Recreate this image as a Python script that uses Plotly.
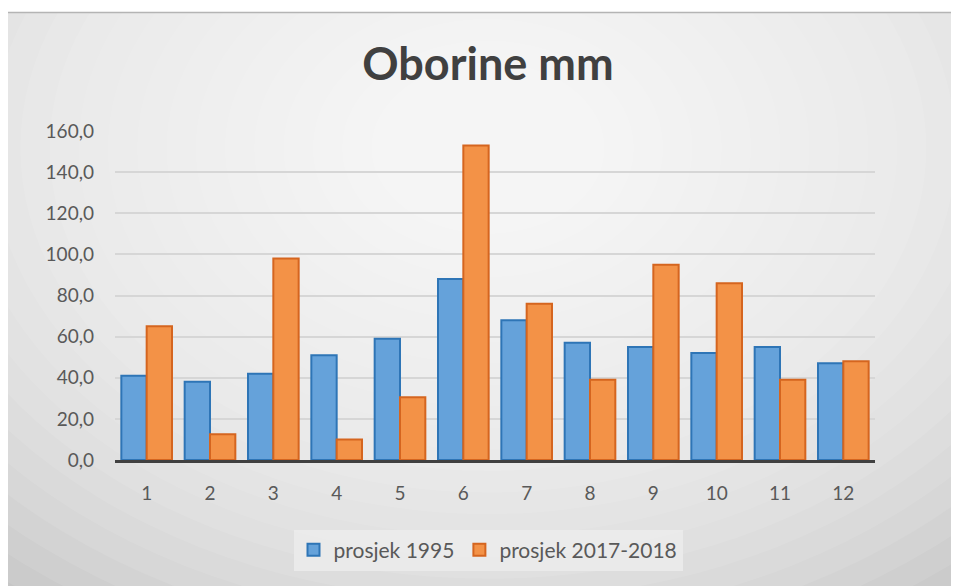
import plotly.graph_objects as go

months = ["1", "2", "3", "4", "5", "6", "7", "8", "9", "10", "11", "12"]
prosjek_1995 = [41, 38, 42, 51, 59, 88, 68, 57, 55, 52, 55, 47]
prosjek_2017_2018 = [65, 12.5, 98, 10, 30.5, 153, 76, 39, 95, 86, 39, 48]
y_ticks = [0, 20, 40, 60, 80, 100, 120, 140, 160]

# page is offset by the browser's 8px body margin
W, H = 959, 586
L, R, T, B = 107, 867, 123, 452  # plot area pixels in figure coordinates


def px(x):
    return (x - L) / (R - L)


def py(y):
    return (B - y) / (B - T)


shapes = []
# radial-ish gradient background
N = 26
for i in range(N):
    f = 1 - i / N
    rx, ry = 760 * f, 560 * f
    cx, cy = 480, 140
    shapes.append(dict(type="circle", xref="paper", yref="paper", layer="below",
                       x0=px(cx - rx), x1=px(cx + rx), y0=py(cy + ry), y1=py(cy - ry),
                       fillcolor="white", opacity=0.09, line_width=0))
# white top strip and chart border line
shapes.append(dict(type="rect", xref="paper", yref="paper", layer="below",
                   x0=px(-5), x1=px(980), y0=py(4), y1=py(-5), fillcolor="white", line_width=0))
shapes.append(dict(type="line", xref="paper", yref="paper", layer="below",
                   x0=px(-5), x1=px(980), y0=py(4.5), y1=py(4.5), line=dict(color="#b4b4b4", width=1.5)))

fig = go.Figure()
fig.add_trace(go.Bar(x=months, y=prosjek_1995, name="prosjek 1995",
                     marker=dict(color="#65a2da", line=dict(color="#2e75b6", width=2))))
fig.add_trace(go.Bar(x=months, y=prosjek_2017_2018, name="prosjek 2017-2018",
                     marker=dict(color="#f39247", line=dict(color="#d5651f", width=2))))

fig.update_layout(
    width=W, height=H,
    margin=dict(l=L, r=W - R, t=T, b=H - B),
    paper_bgcolor="#c6c6c6",
    plot_bgcolor="rgba(0,0,0,0)",
    separators=",.",
    bargap=0.2, bargroupgap=0.0,
    barmode="group",
    shapes=shapes,
    title=dict(text="<b>Oborine mm</b>", x=480 / W, xanchor="center", xref="container",
               y=1 - 56 / H, yanchor="middle",
               font=dict(family="Lato", size=45, color="#404040")),
    font=dict(family="Lato", size=19, color="#595959"),
    legend=dict(orientation="h", x=px(480), xanchor="center", y=py(542), yanchor="middle",
                bgcolor="rgba(238,238,238,0.75)", font=dict(size=21, color="#595959"),
                itemwidth=30, traceorder="normal"),
    xaxis=dict(showline=True, linecolor="#404040", linewidth=3, ticks="",
               ticklabelstandoff=14, tickfont=dict(size=19, color="#595959")),
    yaxis=dict(range=[0, 160], tickvals=y_ticks, tickformat=".1f", showgrid=True,
               gridcolor="#d6d6d6", gridwidth=1.5, zeroline=False, ticks="",
               ticklabelstandoff=20, tickfont=dict(size=19, color="#595959")),
)

fig.write_html("out.html")
